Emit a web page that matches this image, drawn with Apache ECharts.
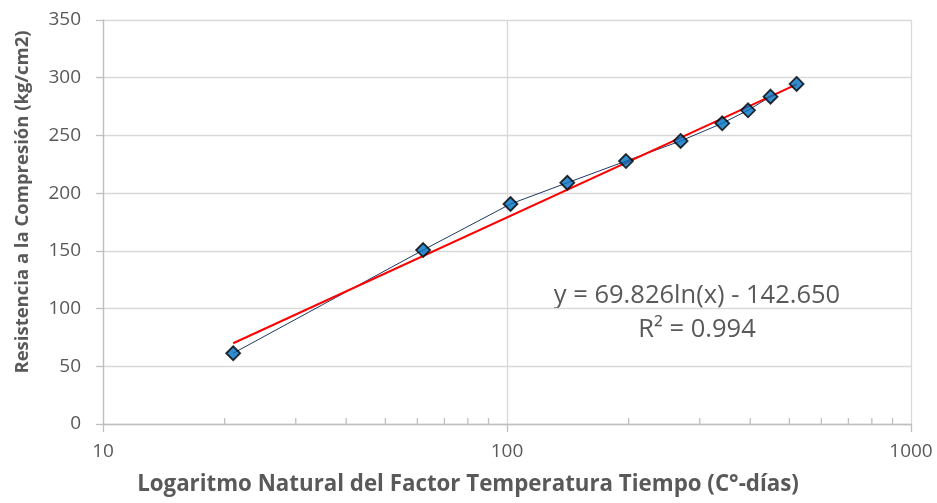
<!DOCTYPE html>
<html>
<head>
<meta charset="utf-8">
<script src="https://cdn.jsdelivr.net/npm/echarts@6/dist/echarts.min.js"></script>
<style>
  html, body { margin: 0; padding: 0; background: #fff; }
  #chart { width: 937px; height: 503px; }
</style>
</head>
<body>
<div id="chart"></div>
<script>
// Factor temperatura-tiempo (C°-días) and compressive strength (kg/cm2)
const factorTT = [21, 62, 102, 141, 197, 269, 341, 395, 449, 521];
const resistencia = [61.3, 150.7, 190.6, 209.0, 227.8, 245.2, 260.5, 271.8, 283.6, 294.6];

// Logarithmic fit y = a·ln(x) + b as stated on the chart
const fitA = 69.826;
const fitB = -142.650;
const fitR2 = 0.994;

// Axis ranges and ticks
const xTicks = [10, 100, 1000];
const xMinorTicks = [20, 30, 40, 50, 60, 70, 80, 90, 200, 300, 400, 500, 600, 700, 800, 900];
const yMax = 350;
const yStep = 50;

const FONT = "'Open Sans', 'Noto Sans', sans-serif";
const TEXT = '#595959';

const points = factorTT.map((x, i) => [x, resistencia[i]]);
const xFirst = factorTT[0];
const xLast = factorTT[factorTT.length - 1];
const fitLine = [xFirst, xLast].map(x => [x, fitA * Math.log(x) + fitB]);
const minorTickData = xMinorTicks.map(v => [v, 0]);

const chart = echarts.init(document.getElementById('chart'), null, { renderer: 'canvas' });

chart.setOption({
  backgroundColor: '#ffffff',
  animation: false,
  grid: { left: 103, top: 20, width: 808, height: 404, containLabel: false },
  xAxis: {
    type: 'log',
    logBase: 10,
    min: xTicks[0],
    max: xTicks[xTicks.length - 1],
    axisLine: { show: true, lineStyle: { color: '#BFBFBF', width: 1.3 } },
    axisTick: { show: true, length: 8, lineStyle: { color: '#BFBFBF', width: 1.3 } },
    axisLabel: {
      color: TEXT, fontFamily: FONT, fontSize: 19, margin: 18,
      formatter: v => String(Math.round(v))
    },
    splitLine: { show: true, lineStyle: { color: '#D9D9D9', width: 1.3 } },
    minorTick: { show: false }
  },
  yAxis: {
    type: 'value',
    min: 0,
    max: yMax,
    interval: yStep,
    axisLine: { show: true, lineStyle: { color: '#BFBFBF', width: 1.3 } },
    axisTick: { show: true, length: 7, lineStyle: { color: '#BFBFBF', width: 1.3 } },
    axisLabel: { color: TEXT, fontFamily: FONT, fontSize: 19, margin: 22 },
    splitLine: { show: true, lineStyle: { color: '#D9D9D9', width: 1.3 } }
  },
  series: [
    {
      // minor ticks at 20..90 and 200..900, pointing up from the x axis
      type: 'custom',
      data: minorTickData,
      silent: true,
      z: 1,
      renderItem: function (params, api) {
        const p = api.coord([api.value(0), api.value(1)]);
        return {
          type: 'line',
          shape: { x1: p[0], y1: p[1], x2: p[0], y2: p[1] - 6 },
          style: { stroke: '#BFBFBF', lineWidth: 1.3 }
        };
      }
    },
    {
      name: 'Resistencia',
      type: 'line',
      data: points,
      showSymbol: false,
      symbol: 'none',
      lineStyle: { color: '#203864', width: 1 },
      z: 2
    },
    {
      name: 'Ajuste logarítmico',
      type: 'line',
      data: fitLine,
      showSymbol: false,
      symbol: 'none',
      lineStyle: { color: '#FF0000', width: 2 },
      z: 3
    },
    {
      name: 'Puntos',
      type: 'scatter',
      data: points,
      symbol: 'diamond',
      symbolSize: 14,
      itemStyle: { color: '#0070C0', borderColor: '#000000', borderWidth: 1.8 },
      z: 4
    }
  ],
  graphic: [
    {
      type: 'text',
      x: 697,
      y: 296,
      style: {
        text: 'y = ' + fitA.toFixed(3) + 'ln(x) - ' + Math.abs(fitB).toFixed(3),
        fill: TEXT, font: '25.5px ' + FONT,
        align: 'center', verticalAlign: 'middle'
      }
    },
    {
      type: 'text',
      x: 697,
      y: 330,
      style: {
        text: 'R² = ' + fitR2.toFixed(3),
        fill: TEXT, font: '25.5px ' + FONT,
        align: 'center', verticalAlign: 'middle'
      }
    },
    {
      type: 'text',
      x: 468,
      y: 485,
      style: {
        text: 'Logaritmo Natural del Factor Temperatura Tiempo (C°-días)',
        fill: TEXT, font: 'bold 22.3px ' + FONT,
        align: 'center', verticalAlign: 'middle'
      }
    },
    {
      type: 'text',
      x: 23,
      y: 202,
      rotation: Math.PI / 2,
      style: {
        text: 'Resistencia a la Compresión (kg/cm2)',
        fill: TEXT, font: 'bold 18.5px ' + FONT,
        align: 'center', verticalAlign: 'middle'
      }
    }
  ]
});
</script>
</body>
</html>
